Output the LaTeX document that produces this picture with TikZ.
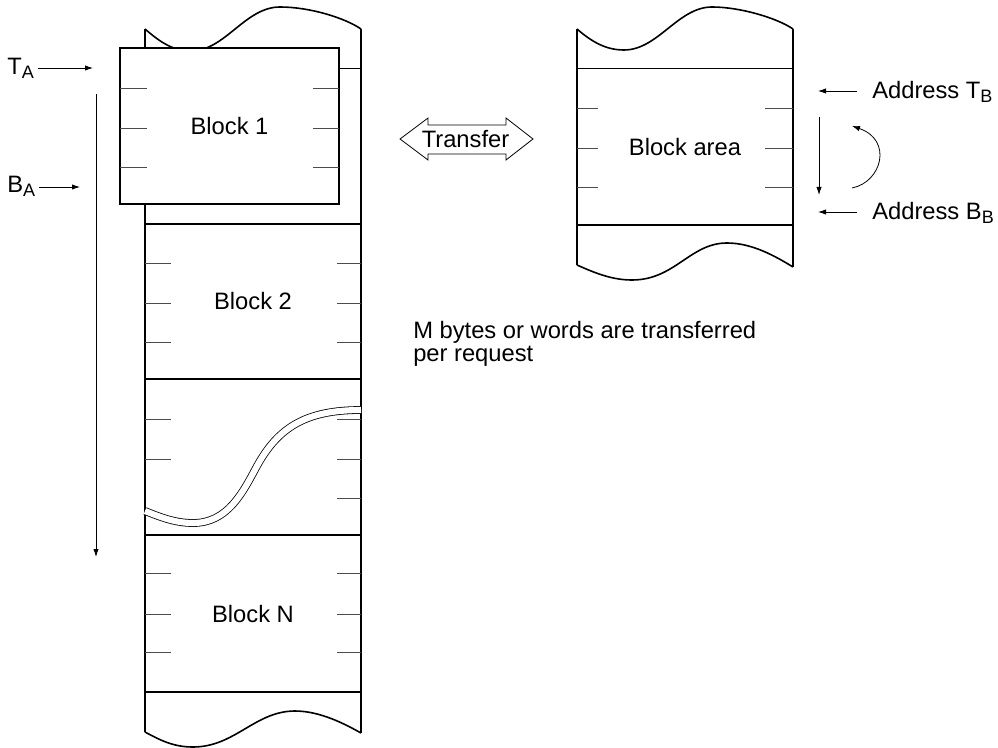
\documentclass[tikz,border=0pt]{standalone}
\usepackage{fontspec}
\setmainfont{Liberation Sans}
\usetikzlibrary{arrows.meta}
\newcommand\lowsub[1]{\raisebox{-3pt}{\fontsize{13.5pt}{13.5pt}\selectfont #1}}
\begin{document}
\begin{tikzpicture}[x=0.75pt,y=-0.75pt,
  thickline/.style={line width=1.2pt},
  thinline/.style={line width=0.6pt},
  tickline/.style={line width=0.7pt, draw=black!70},
  lbl/.style={font=\fontsize{17.8pt}{21pt}\selectfont, inner sep=0pt},
  ptr/.style={line width=0.6pt, -{Latex[length=6pt,width=4pt]}},
  blockbox/.style={draw, line width=1.2pt, fill=white, inner sep=0pt,
    font=\fontsize{17.8pt}{21pt}\selectfont},
]
\useasboundingbox (0,0) rectangle (998,748);

% ---------- left strip ----------
\draw[thickline] (145,29) -- (145,732);
\draw[thickline] (361,29) -- (361,733);
\draw[thickline] (145,29) .. controls (160,42) and (173,51) .. (191,51)
  .. controls (225,51) and (245,7) .. (280,7)
  .. controls (310,7) and (345,18) .. (361,29);
\draw[thickline] (145,732) .. controls (160,740) and (173,747) .. (193,747)
  .. controls (235,747) and (255,711) .. (295,711)
  .. controls (320,711) and (345,724) .. (361,733);
\draw[thinline] (145,68) -- (361,68);
\foreach \y in {224,379,535,692} \draw[thickline] (145,\y) -- (361,\y);

% block 2 ticks
\foreach \y in {263,303,342} {
  \draw[tickline] (145,\y) -- (171,\y);
  \draw[tickline] (337,\y) -- (361,\y);
}
% middle region ticks
\foreach \y in {419,459} \draw[tickline] (145,\y) -- (171,\y);
\foreach \y in {419,459,498} \draw[tickline] (337,\y) -- (361,\y);
% block N ticks
\foreach \y in {573,614,652} {
  \draw[tickline] (145,\y) -- (171,\y);
  \draw[tickline] (337,\y) -- (361,\y);
}

% break in the strip
\draw[line width=0.6pt, double=white, double distance=4.6pt]
  (145,511) .. controls (160,517) and (175,523) .. (193,523)
  .. controls (228,523) and (243,492) .. (257,466)
  .. controls (278,428) and (305,410) .. (361,410);

% Block 1
\node[blockbox, minimum width=164.25pt, minimum height=117pt] (b1) at (229.5,126) {Block 1};
\foreach \y in {88,128,167} {
  \draw[tickline] (120,\y) -- (147,\y);
  \draw[tickline] (313,\y) -- (339,\y);
}

\node[lbl] (b2) at (253,301) {Block 2};
\node[lbl] (bn) at (253,614) {Block N};

% ---------- right strip ----------
\draw[thickline] (577,29) -- (577,265);
\draw[thickline] (793,29) -- (793,267);
\draw[thickline] (577,29) .. controls (592,42) and (606,50) .. (624,50)
  .. controls (658,50) and (678,7) .. (712,7)
  .. controls (740,7) and (777,18) .. (793,29);
\draw[thickline] (577,265) .. controls (595,273) and (612,280) .. (632,280)
  .. controls (675,280) and (690,243) .. (727,243)
  .. controls (752,243) and (775,256) .. (793,267);
\draw[thinline] (577,68) -- (793,68);
\draw[thickline] (577,225) -- (793,225);
\foreach \y in {108,148,187} {
  \draw[tickline] (577,\y) -- (598,\y);
  \draw[tickline] (765,\y) -- (793,\y);
}
\node[lbl] (ba) at (685,147) {Block area};

% ---------- transfer arrow ----------
\draw[thinline] (400,139) -- (428,118) -- (428,125) -- (506,125) -- (506,118)
  -- (533,139) -- (506,160) -- (506,154) -- (428,154) -- (428,160) -- cycle;
\node[lbl] (tr) at (465.5,139) {Transfer};

% ---------- left labels ----------
\node[lbl, anchor=base west] (ta) at (7,75) {T\lowsub{A}};
\coordinate (taend) at (93,68);
\draw[ptr] ([xshift=3pt]ta.east |- taend) -- (taend);
\node[lbl, anchor=base west] (bal) at (7,193) {B\lowsub{A}};
\coordinate (baend) at (80,187);
\draw[ptr] ([xshift=3pt]bal.east |- baend) -- (baend);
\coordinate (vtop) at (96,94);
\coordinate (vbot) at (96,557);
\draw[ptr] (vtop) -- (vbot);

% ---------- right labels ----------
\node[lbl, anchor=base west] (atb) at (872,99) {Address T\lowsub{B}};
\coordinate (tbend) at (818,91);
\draw[ptr] ([xshift=-11pt]atb.west |- tbend) -- (tbend);
\node[lbl, anchor=base west] (abb) at (872,220) {Address B\lowsub{B}};
\coordinate (bbend) at (818,212);
\draw[ptr] ([xshift=-11pt]abb.west |- bbend) -- (bbend);
\coordinate (rvtop) at (819,117);
\coordinate (rvbot) at (819,195);
\draw[ptr] (rvtop) -- (rvbot);
\coordinate (cstart) at (852,188);
\coordinate (cend) at (852,126);
\draw[ptr] (cstart) .. controls (882,182) and (893,140) .. (cend);

% ---------- note ----------
\node[lbl, anchor=base west] (m1) at (413,338) {M bytes or words are transferred};
\node[lbl, anchor=base west] (m2) at (413,361) {per request};
\end{tikzpicture}
\end{document}
